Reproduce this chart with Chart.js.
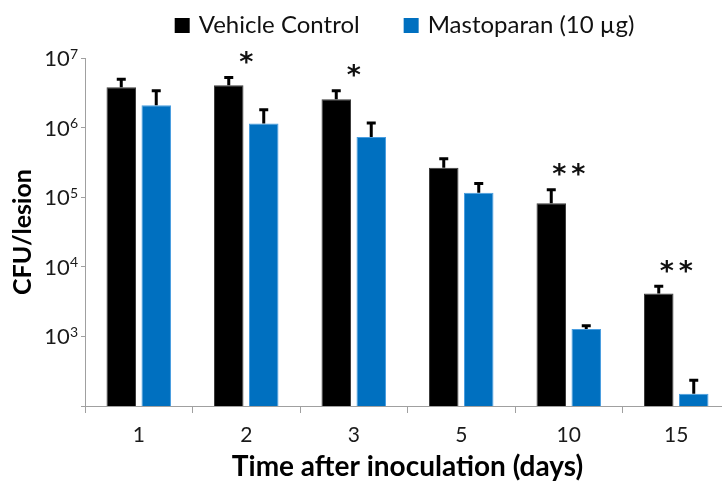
<!DOCTYPE html>
<html>
<head>
<meta charset="utf-8">
<script src="https://cdn.jsdelivr.net/npm/chart.js@4.4.1/dist/chart.umd.min.js"></script>
<style>
  html, body { margin: 0; padding: 0; background: #fff; overflow: hidden; }
  #wrap { width: 810px; height: 485px; }
</style>
</head>
<body>
<div id="wrap"><canvas id="myChart" width="810" height="485"></canvas></div>
<script>
// categories (days) and series
const days = ['1', '2', '3', '5', '10', '15'];
const vehicle = [3.8e6, 4.05e6, 2.55e6, 2.65e5, 8.2e4, 4.15e3];
const vehicleErrTop = [5.2e6, 5.5e6, 3.55e6, 3.75e5, 1.34e5, 5.5e3];
const masto = [2.1e6, 1.15e6, 7.3e5, 1.16e5, 1.28e3, 150];
const mastoErrTop = [3.55e6, 1.9e6, 1.22e6, 1.65e5, 1.49e3, 247];
const stars = ['', '*', '*', '', '**', '**'];
const yTicks = [1e2, 1e3, 1e4, 1e5, 1e6, 1e7];
const yTickLabels = ['', '3', '4', '5', '6', '7']; // exponents of 10

const FONT = 'Lato';

const extras = {
    id: 'extras',
    afterDatasetsDraw(chart) {
        const ctx = chart.ctx;
        const y = chart.scales.y;
        const x = chart.scales.x;
        ctx.save();

        // error bars (upper only)
        ctx.strokeStyle = '#000';
        ctx.lineWidth = 3;
        [vehicleErrTop, mastoErrTop].forEach((arr, di) => {
            chart.getDatasetMeta(di).data.forEach((bar, i) => {
                const top = y.getPixelForValue(arr[i]);
                ctx.beginPath();
                ctx.moveTo(bar.x, bar.y);
                ctx.lineTo(bar.x, top + 1);
                ctx.moveTo(bar.x - 4.5, top + 1.5);
                ctx.lineTo(bar.x + 4.5, top + 1.5);
                ctx.stroke();
            });
        });

        // significance stars
        ctx.fillStyle = '#111';
        ctx.font = 'bold 27px "DejaVu Sans"';
        ctx.textAlign = 'center';
        ctx.textBaseline = 'alphabetic';
        stars.forEach((s, i) => {
            if (!s) return;
            const cx = x.getPixelForValue(i);
            const top = y.getPixelForValue(Math.max(vehicleErrTop[i], mastoErrTop[i]));
            for (let k = 0; k < s.length; k++) {
                const sx = cx + (k - (s.length - 1) / 2) * 19;
                ctx.fillText('*', sx, top - 20 + 15);
            }
        });

        // y tick labels as 10 with superscript exponent
        ctx.fillStyle = '#1a1a1a';
        ctx.textAlign = 'right';
        yTicks.forEach((v, i) => {
            const e = yTickLabels[i];
            if (!e) return;
            const py = y.getPixelForValue(v);
            ctx.font = '14px ' + FONT;
            const ew = ctx.measureText(e).width;
            ctx.fillText(e, 78, py + 0.5);
            ctx.font = '22px ' + FONT;
            ctx.fillText('10', 78 - ew, py + 8);
        });

        // legend
        const ds = chart.data.datasets;
        ctx.font = '24px ' + FONT;
        ctx.textAlign = 'left';
        const box = 15, boxGap = 9, itemGap = 44;
        const widths = ds.map(d => box + boxGap + ctx.measureText(d.label).width);
        const total = widths.reduce((a, b) => a + b, 0) + itemGap * (ds.length - 1);
        let lx = (chart.chartArea.left + chart.chartArea.right) / 2 - total / 2 - 3;
        ds.forEach((d, i) => {
            ctx.fillStyle = d.backgroundColor;
            ctx.fillRect(lx, 18, box, box);
            ctx.fillStyle = '#111';
            ctx.fillText(d.label, lx + box + boxGap, 33);
            lx += widths[i] + itemGap;
        });

        ctx.restore();
    }
};

new Chart(document.getElementById('myChart'), {
    type: 'bar',
    data: {
        labels: days,
        datasets: [
            {
                label: 'Vehicle Control',
                data: vehicle,
                backgroundColor: '#000000',
                borderColor: '#3c3c3c',
                borderWidth: 1
            },
            {
                label: 'Mastoparan (10 µg)',
                data: masto,
                backgroundColor: '#0070C0',
                borderColor: '#4a9ee0',
                borderWidth: 1
            }
        ]
    },
    options: {
        responsive: false,
        animation: false,
        barPercentage: 0.843,
        categoryPercentage: 0.651,
        layout: {
            padding: { top: 58, right: 80, left: 0, bottom: 0 }
        },
        plugins: {
            legend: { display: false },
            tooltip: { enabled: false }
        },
        scales: {
            x: {
                offset: true,
                grid: { offset: true, drawOnChartArea: false, drawTicks: true, tickLength: 7, color: '#a0a0a0' },
                border: { color: '#a0a0a0', width: 1 },
                ticks: { font: { family: FONT, size: 21 }, color: '#1a1a1a', padding: 10 },
                title: {
                    display: true,
                    text: 'Time after inoculation (days)',
                    font: { family: FONT, size: 28, weight: 'bold' },
                    color: '#000',
                    padding: { top: 0, bottom: 1 }
                },
                afterFit(scale) { scale.height = 79; }
            },
            y: {
                type: 'logarithmic',
                min: 100,
                max: 1e7,
                grid: { drawOnChartArea: false, drawTicks: true, tickLength: 4, color: '#a0a0a0' },
                border: { color: '#a0a0a0', width: 1 },
                ticks: { display: false },
                afterBuildTicks(scale) { scale.ticks = yTicks.map(v => ({ value: v })); },
                title: {
                    display: true,
                    text: 'CFU/lesion',
                    font: { family: FONT, size: 25, weight: 'bold' },
                    color: '#000',
                    padding: { top: 8, bottom: 0 }
                },
                afterFit(scale) { scale.width = 85; }
            }
        }
    },
    plugins: [extras]
});
</script>
</body>
</html>
